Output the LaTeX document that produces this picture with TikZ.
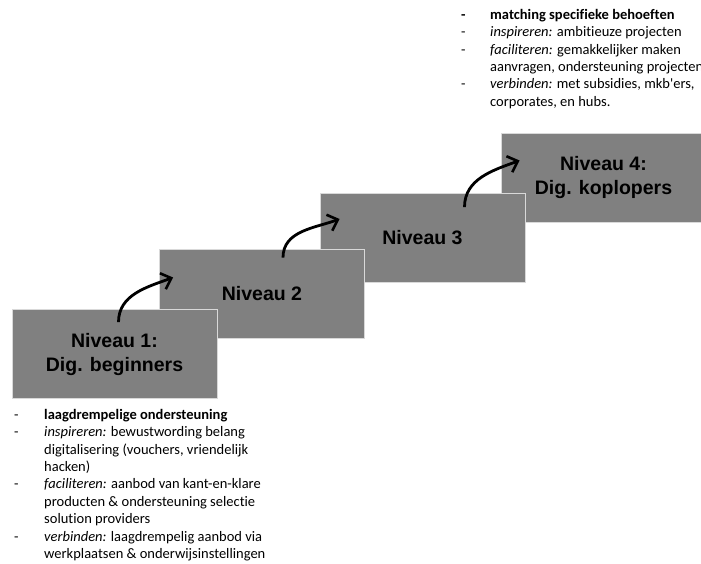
\documentclass[tikz,border=0pt]{standalone}
\usepackage{fontspec}
\setmainfont[Ligatures=NoCommon]{Carlito}
\newfontfamily\boxfont{Liberation Sans}
\usetikzlibrary{arrows.meta,positioning}

\tikzset{
  level/.style={draw=white!85!black,line width=0.8pt,fill=black!50,minimum width=205pt,minimum height=89pt,
    inner sep=0pt,align=center,font=\boxfont\bfseries\fontsize{19.5}{24}\selectfont},
  uparrow/.style={line width=2.8pt,-{Straight Barb[length=9pt,width=17pt,line width=2.6pt]}},
  notes/.style={anchor=north west,inner sep=0pt,font=\fontsize{14.5}{17.4}\selectfont}
}

\begin{document}
\begin{tikzpicture}[x=1pt,y=-1pt]
\useasboundingbox[fill=white] (0,0) rectangle (701,563);
\node[level] (lvl4) at (603.5,177.5) {Niveau 4:\\Dig. koplopers};
\node[level] (lvl3) at (422.5,238) {Niveau 3};
\node[level] (lvl2) at (262,293.5) {Niveau 2};
\node[level] (lvl1) at (114.5,354) {Niveau 1:\\Dig. beginners};
\draw[uparrow] ([xshift=4pt,yshift=-13pt]lvl1.north) to[out=90,in=200] ([xshift=14pt,yshift=16pt]lvl2.west);
\draw[uparrow] ([xshift=21pt,yshift=-9pt]lvl2.north) to[out=90,in=200] ([xshift=20pt,yshift=19pt]lvl3.west);
\draw[uparrow] ([xshift=42pt,yshift=-14pt]lvl3.north) to[out=90,in=200] ([xshift=19pt,yshift=17pt]lvl4.west);
\node[notes] (top) at (461,7) {\begin{tabular}{@{}p{29pt}@{}l@{}}
\textbf{-} & \textbf{matching specifieke behoeften}\\
- & \textit{inspireren:} ambitieuze projecten\\
- & \textit{faciliteren:} gemakkelijker maken\\
  & aanvragen, ondersteuning projecten\\
- & \textit{verbinden:} met subsidies, mkb\textquotesingle ers,\\
  & corporates, en hubs.
\end{tabular}};
\node[notes] (bottom) at (14,407) {\begin{tabular}{@{}p{30pt}@{}l@{}}
- & \textbf{laagdrempelige ondersteuning}\\
- & \textit{inspireren:} bewustwording belang\\
  & digitalisering (vouchers, vriendelijk\\
  & hacken)\\
- & \textit{faciliteren:} aanbod van kant-en-klare\\
  & producten \& ondersteuning selectie\\
  & solution providers\\
- & \textit{verbinden:} laagdrempelig aanbod via\\
  & werkplaatsen \& onderwijsinstellingen
\end{tabular}};
\end{tikzpicture}
\end{document}
